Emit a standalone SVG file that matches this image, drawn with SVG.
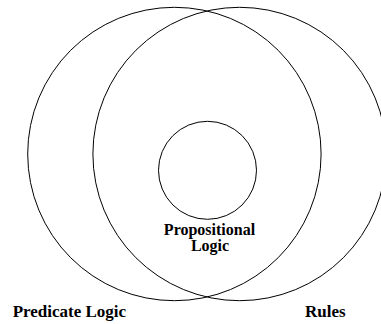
<svg xmlns="http://www.w3.org/2000/svg" width="381" height="324" viewBox="0 0 381 324">
<style>
.c{fill:none;stroke:#000;stroke-width:1}
text{font-family:'Liberation Serif','Times New Roman',serif;font-weight:bold;font-size:17px;fill:#000}
.p{font-size:16px}
</style>
<rect width="381" height="324" fill="#fff"/>
<g id="predicate-logic">
<circle class="c" cx="174.4" cy="154" r="146.7"/>
<text x="12.7" y="316.7">Predicate Logic</text>
</g>
<g id="rules">
<circle class="c" cx="239.6" cy="154" r="146.7"/>
<text x="305" y="316.7">Rules</text>
</g>
<g id="propositional-logic">
<circle class="c" cx="207.5" cy="170.3" r="49"/>
<text class="p" x="209.5" y="235" text-anchor="middle">Propositional</text>
<text class="p" x="210" y="251" text-anchor="middle">Logic</text>
</g>
<g id="connectors"/>
</svg>
